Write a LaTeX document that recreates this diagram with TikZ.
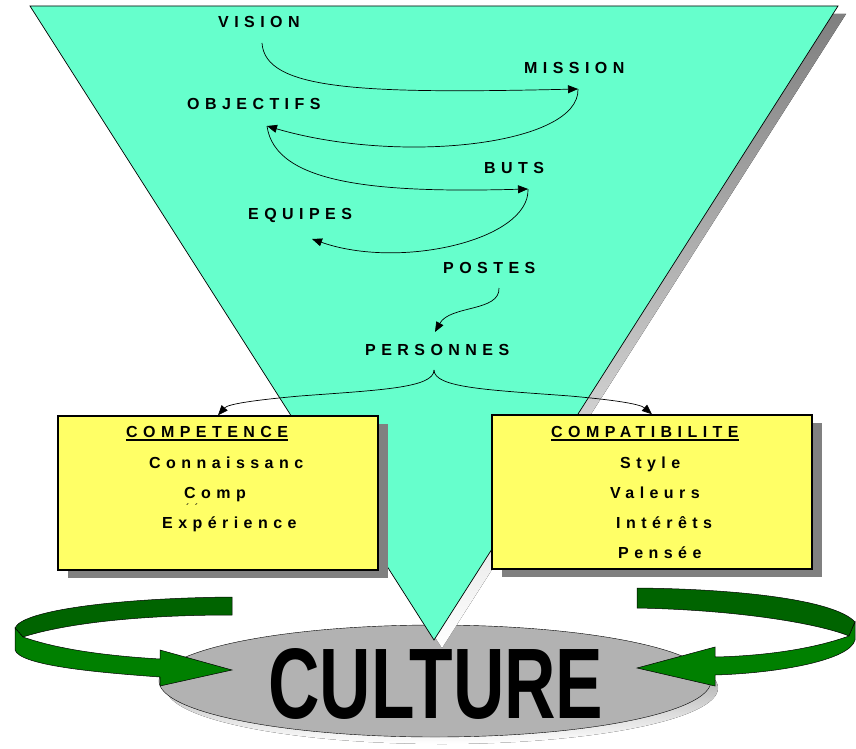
\documentclass[tikz,border=0pt]{standalone}
\usepackage{fontspec}
\setmainfont{Liberation Sans}
\newfontfamily\spaced[LetterSpace=34]{Liberation Sans}
\usetikzlibrary{arrows.meta,shadows}

\definecolor{aqua}{RGB}{102,255,204}
\definecolor{lemon}{RGB}{255,255,102}
\definecolor{shade}{RGB}{128,128,128}
\definecolor{disc}{RGB}{178,178,178}
\definecolor{leafdark}{RGB}{0,100,0}
\definecolor{leaf}{RGB}{0,128,0}

\begin{document}
\begin{tikzpicture}[
    x=1pt, y=-1pt,
    word/.style={
      anchor=base west,
      inner sep=0pt,
      font=\spaced\bfseries\fontsize{16}{19}\selectfont
    },
    flow/.style={-{Triangle[length=10pt,width=8pt]}, line width=0.7pt},
    card/.style={
      draw,
      line width=1.5pt,
      fill=lemon,
      minimum width=320pt,
      minimum height=154pt,
      drop shadow={shadow xshift=10pt, shadow yshift=-8pt, fill=shade, opacity=1}
    },
    uline/.style={line width=1.5pt},
    ribbon/.style={draw, line width=0.5pt}
  ]

  \useasboundingbox (0,0) rectangle (856,749);

  % disc at the bottom
  \fill[shade] (442,688) ellipse [x radius=276, y radius=56];
  \draw[fill=disc] (435,681) ellipse [x radius=276, y radius=56];

  % funnel
  \fill[shade] (38,14) -- (846,14) -- (442,648) -- cycle;
  \draw[fill=aqua, line width=0.7pt] (30,6) -- (838,6) -- (434,640) -- cycle;

  \node[word] (vision) at (218,28) {VISION};
  \node[word] (mission) at (524,74) {MISSION};
  \node[word] (objectifs) at (187,110) {OBJECTIFS};
  \node[word] (buts) at (484,173) {BUTS};
  \node[word] (equipes) at (248,219) {EQUIPES};
  \node[word] (postes) at (443,273) {POSTES};
  \node[word] (personnes) at (365,355) {PERSONNES};

  \coordinate (v-out) at (262,43);
  \coordinate (m-in) at (578,89);
  \coordinate (o-in) at (267,126);
  \coordinate (b-in) at (528,189);
  \coordinate (e-in) at (312,239);
  \coordinate (p-out) at (499,288);
  \coordinate (n-in) at (435,332);
  \coordinate (fork) at (434,370);

  \draw[flow] (v-out) .. controls (265,90) and (360,94) .. (m-in);
  \draw[flow] (m-in) .. controls (580,145) and (400,165) .. (o-in);
  \draw[flow] (o-in) .. controls (275,185) and (380,193) .. (b-in);
  \draw[flow] (b-in) .. controls (530,240) and (400,270) .. (e-in);
  \draw[flow] (p-out) .. controls (500,312) and (450,305) .. (n-in);

  % the two boxes
  \node[card] (lbox) at (218,493) {};
  \node[card] (rbox) at (652,492) {};

  \draw[flow] (fork) .. controls (434,388) and (380,390) .. (300,396)
    .. controls (255,400) and (228,404) .. (lbox.north);
  \draw[flow] (fork) .. controls (434,388) and (490,390) .. (570,396)
    .. controls (615,400) and (640,404) .. (rbox.north);

  \node[word] (competence) at (126,437) {COMPETENCE};
  \draw[uline] ([yshift=-3pt]competence.base west) -- ([yshift=-3pt]competence.base east);
  \node[word] (connaissanc) at (149,468) {Connaissanc};
  \node[word] (comp) at (184,498) {Comp};
  \node[word, font=\spaced\bfseries\fontsize{9}{9}\selectfont] (accents) at (186,510) {´ ´};
  \node[word] (experience) at (162,528) {Expérience};

  \node[word] (compatibilite) at (551,437) {COMPATIBILITE};
  \draw[uline] ([yshift=-3pt]compatibilite.base west) -- ([yshift=-3pt]compatibilite.base east);
  \node[word] (style) at (620,468) {Style};
  \node[word] (valeurs) at (610,498) {Valeurs};
  \node[word] (interets) at (616,528) {Intérêts};
  \node[word] (pensee) at (618,558) {Pensée};

  % green arrows around the disc
  \draw[ribbon, fill=leafdark] (232,597) .. controls (120,598) and (22,610) .. (15,628)
    -- (23,637) .. controls (60,625) and (130,615) .. (232,615) -- cycle;
  \draw[ribbon, fill=leaf] (15,628) -- (23,637) .. controls (60,650) and (110,656) .. (160,659)
    -- (160,650) -- (232,670) -- (160,686) -- (160,677)
    .. controls (90,672) and (20,665) .. (15,650) -- cycle;

  \draw[ribbon, fill=leafdark] (637,588) .. controls (740,589) and (835,600) .. (855,622)
    -- (849,636) .. controls (820,624) and (740,610) .. (637,608) -- cycle;
  \draw[ribbon, fill=leaf] (855,622) -- (849,636) .. controls (810,650) and (760,656) .. (715,657)
    -- (715,647) -- (637,668) -- (715,686) -- (715,675)
    .. controls (780,673) and (850,660) .. (855,640) -- cycle;

  \node[anchor=base, inner sep=0pt, font=\bfseries\fontsize{80}{80}\selectfont] (culture)
    at (436,718) {\resizebox{335pt}{70pt}{CULTURE}};

\end{tikzpicture}
\end{document}
